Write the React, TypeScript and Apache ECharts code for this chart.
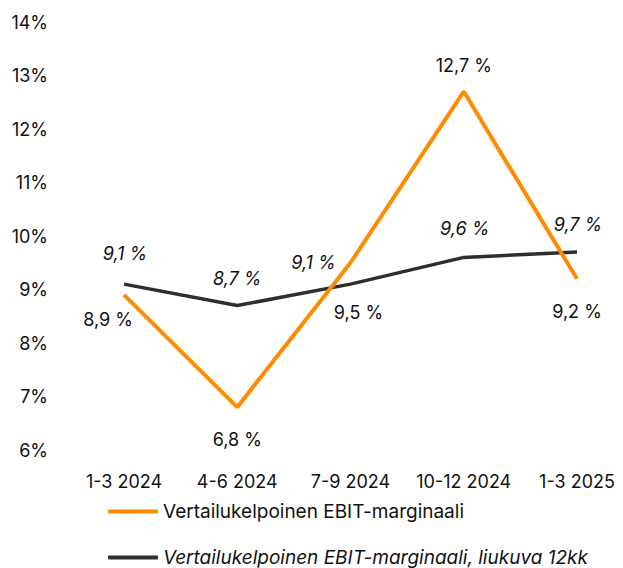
import React, { useEffect, useRef } from "react";
import * as echarts from "echarts";

const categories = ["1-3 2024", "4-6 2024", "7-9 2024", "10-12 2024", "1-3 2025"];
const ebitMargin = [8.9, 6.8, 9.5, 12.7, 9.2];
const ebitRolling = [9.1, 8.7, 9.1, 9.6, 9.7];
const seriesNames = [
  "Vertailukelpoinen EBIT-marginaali",
  "Vertailukelpoinen EBIT-marginaali, liukuva 12kk",
];
const yMin = 6;
const yMax = 14;

const ORANGE = "#FF8C00";
const DARK = "#2E2E2E";
const FONT = "Inter";

// label offsets (styling only)
const orangeOffsets: [number, number][] = [[-16, 25], [0, 32], [8, 50], [0, -26], [0, 33]];
const darkOffsets: [number, number][] = [[1, -31], [0, -27], [-37, -22], [1, -29], [1, -28]];

const fmt = (v: number) => v.toFixed(1).replace(".", ",") + " %";

export default function App() {
  const ref = useRef<HTMLDivElement>(null);
  useEffect(() => {
    document.body.style.margin = "0";
    const chart = echarts.init(ref.current!, null, { renderer: "svg" });
    const legendBase = {
      orient: "horizontal",
      left: 103,
      itemWidth: 50,
      itemHeight: 4,
      icon: "roundRect",
      padding: 5,
      textStyle: { fontSize: 19, fontFamily: FONT, color: "#111" },
    };
    chart.setOption({
      animation: false,
      backgroundColor: "#ffffff",
      textStyle: { fontFamily: FONT },
      grid: { left: 124, right: 46, top: 22, bottom: 118 },
      xAxis: {
        type: "category",
        data: categories,
        boundaryGap: false,
        axisLine: { show: false },
        axisTick: { show: false },
        axisLabel: { color: "#111", fontSize: 18, fontFamily: FONT, margin: 22, interval: 0 },
      },
      yAxis: {
        type: "value",
        min: yMin,
        max: yMax,
        interval: 1,
        splitLine: { show: false },
        axisLine: { show: false },
        axisTick: { show: false },
        axisLabel: {
          color: "#111",
          fontSize: 18,
          fontFamily: FONT,
          margin: 76,
          formatter: (v: number) => v + "%",
        },
      },
      legend: [
        { ...legendBase, top: 497, data: [{ name: seriesNames[0] }] },
        {
          ...legendBase,
          top: 543,
          data: [{ name: seriesNames[1], textStyle: { fontStyle: "italic" } }],
        },
      ],
      series: [
        {
          name: seriesNames[1],
          type: "line",
          data: ebitRolling.map((v, i) => ({
            value: v,
            label: { offset: darkOffsets[i] },
          })),
          color: DARK,
          lineStyle: { width: 3.5, color: DARK },
          symbol: "circle",
          symbolSize: 0,
          showSymbol: true,
          label: {
            show: true,
            position: "inside",
            fontSize: 18,
            fontStyle: "italic",
            fontFamily: FONT,
            color: "#111",
            formatter: (p: any) => fmt(p.value),
          },
          z: 2,
        },
        {
          name: seriesNames[0],
          type: "line",
          data: ebitMargin.map((v, i) => ({
            value: v,
            label: { offset: orangeOffsets[i] },
          })),
          color: ORANGE,
          lineStyle: { width: 4, color: ORANGE },
          symbol: "circle",
          symbolSize: 0,
          showSymbol: true,
          label: {
            show: true,
            position: "inside",
            fontSize: 18,
            fontFamily: FONT,
            color: "#111",
            formatter: (p: any) => fmt(p.value),
          },
          z: 3,
        },
      ],
    });
    return () => chart.dispose();
  }, []);
  return <div ref={ref} style={{ width: 623, height: 568 }} />;
}
